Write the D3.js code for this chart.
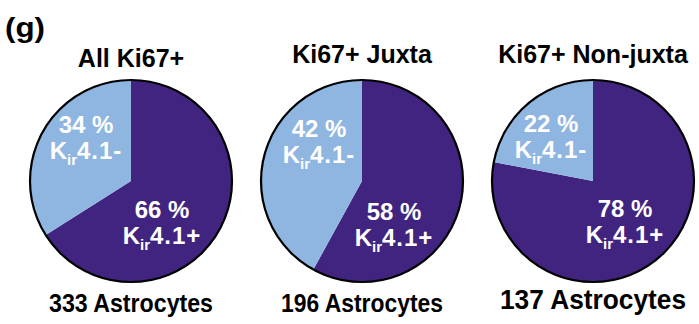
<!DOCTYPE html>
<html><head><meta charset="utf-8">
<script src="https://cdn.jsdelivr.net/npm/d3@7"></script>
<style>html,body{margin:0;padding:0;background:#fff;}svg{display:block;}text{font-family:"Liberation Sans",Arial,Helvetica,sans-serif;font-weight:bold;}</style>
</head><body>
<svg id="c" width="699" height="324"></svg>
<script>
// ---- data ----
const panelLabel = "(g)";
const categories = ["All Ki67+", "Ki67+ Juxta", "Ki67+ Non-juxta"];
const positivePct = [66, 58, 78];   // Kir4.1+
const negativePct = [34, 42, 22];   // Kir4.1-
const cellCounts = ["333 Astrocytes", "196 Astrocytes", "137 Astrocytes"];
const sliceNames = ["Kir4.1+", "Kir4.1-"];

// ---- layout / style ----
const colors = {"Kir4.1+": "#40247f", "Kir4.1-": "#8fb5e1"};
const R = 101, cy = 181;
const x = d3.scalePoint().domain(categories).range([131, 593]);
const titleY = [67, 63, 63];
const countY = [312, 312, 309];
const countSize = [26, 26, 28];
const countLen = [164, 162, 186];
// label anchor offsets from pie centre (neg label / pos label)
const negOff = [[-45, -48], [-43, -44], [-42, -49]];
const posOff = [[31, 37], [32, 39], [32, 36]];

const svg = d3.select("#c");
svg.append("text").attr("x", 5).attr("y", 37).attr("font-size", 28)
  .attr("textLength", 40).attr("lengthAdjust", "spacingAndGlyphs").text(panelLabel);

const pie = d3.pie().sort(null).value(d => d.v).startAngle(0).endAngle(2 * Math.PI);
const arc = d3.arc().innerRadius(0).outerRadius(R);

categories.forEach((cat, i) => {
  const cx = x(cat);
  const g = svg.append("g").attr("transform", `translate(${cx},${cy})`);
  const data = [{k: sliceNames[0], v: positivePct[i]}, {k: sliceNames[1], v: negativePct[i]}];
  g.selectAll("path.s").data(pie(data)).join("path").attr("class", "s")
    .attr("d", arc).attr("fill", d => colors[d.data.k]);
  g.append("circle").attr("r", R).attr("fill", "none").attr("stroke", "#000").attr("stroke-width", 2.2);

  svg.append("text").attr("x", cx).attr("y", titleY[i]).attr("text-anchor", "middle")
    .attr("font-size", 25).attr("fill", "#000").text(cat);
  svg.append("text").attr("x", cx).attr("y", countY[i]).attr("text-anchor", "middle")
    .attr("font-size", countSize[i]).attr("textLength", countLen[i]).attr("lengthAdjust", "spacingAndGlyphs")
    .attr("fill", "#000").text(cellCounts[i]);

  const lab = (off, pct, sign) => {
    const lx = off[0], ly = off[1];
    g.append("text").attr("x", lx).attr("y", ly).attr("text-anchor", "middle")
      .attr("font-size", 24).attr("fill", "#fff").text(pct + " %");
    const t = g.append("text").attr("x", lx).attr("y", ly + 26).attr("text-anchor", "middle")
      .attr("font-size", 24).attr("fill", "#fff");
    t.append("tspan").text("K");
    t.append("tspan").attr("font-size", 15).attr("dy", 6).text("ir");
    t.append("tspan").attr("dy", -6).attr("letter-spacing", 1).text("4.1" + sign);
  };
  lab(negOff[i], negativePct[i], "-");
  lab(posOff[i], positivePct[i], "+");
});
</script>
</body></html>
